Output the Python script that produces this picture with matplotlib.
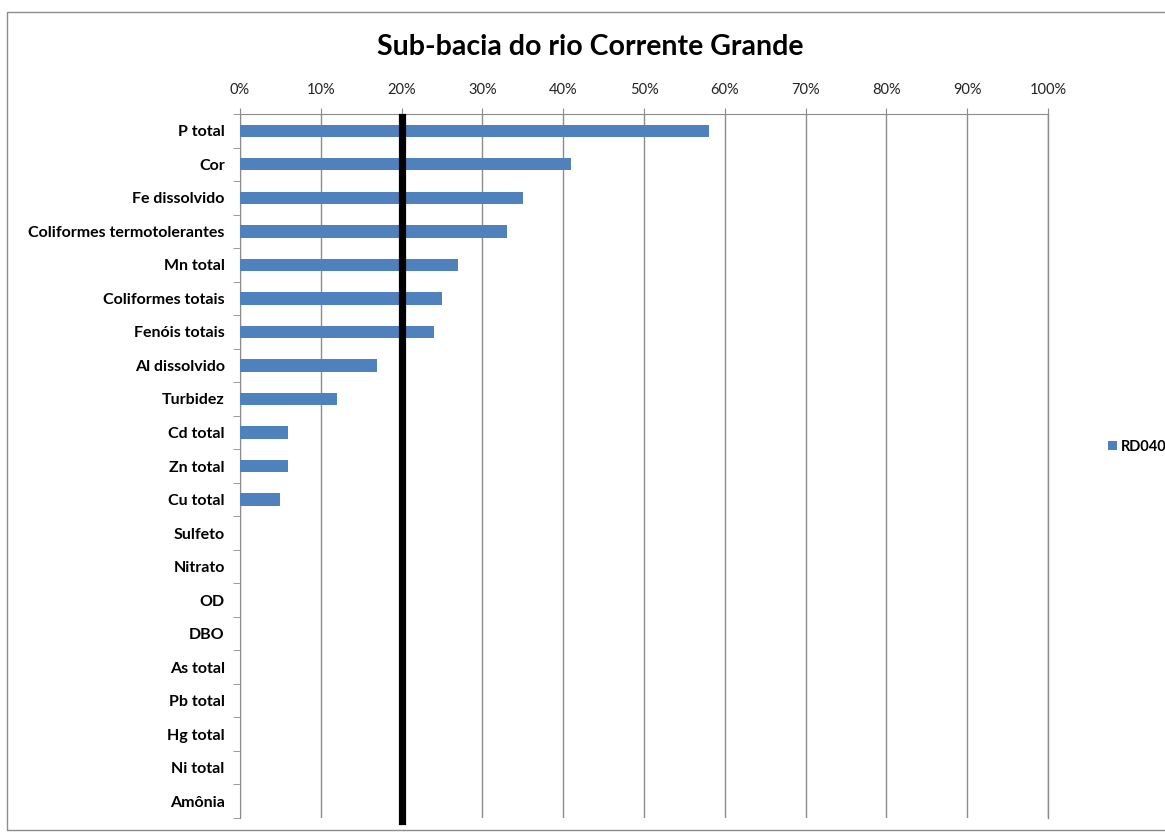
import matplotlib.pyplot as plt
import numpy as np
from matplotlib.ticker import FixedLocator, PercentFormatter

plt.rcParams['font.family'] = ['Lato', 'DejaVu Sans']

# parameters, top to bottom
parametros = ['P total', 'Cor', 'Fe dissolvido', 'Coliformes termotolerantes',
              'Mn total', 'Coliformes totais', 'Fenóis totais', 'Al dissolvido',
              'Turbidez', 'Cd total', 'Zn total', 'Cu total', 'Sulfeto', 'Nitrato',
              'OD', 'DBO', 'As total', 'Pb total', 'Hg total', 'Ni total', 'Amônia']
# percentage of violations, station RD040
rd040 = [58, 41, 35, 33, 27, 25, 24, 17, 12, 6, 6, 5,
         0, 0, 0, 0, 0, 0, 0, 0, 0]
limite = 20
x_ticks = [0, 10, 20, 30, 40, 50, 60, 70, 80, 90, 100]

fig = plt.figure(figsize=(11.65, 8.32), dpi=100)
ax = fig.add_axes([240/1165, 1 - 818/832, 808/1165, 704/832])

n = len(parametros)
y = np.arange(n)
ax.barh(y, rd040, height=0.37, color='#4F81BD', label='RD040', zorder=3)

ax.set_xlim(0, 100)
ax.set_ylim(n - 0.5, -0.5)

# 20% reference line
ax.axvline(limite, ymin=-0.004, ymax=0.996, color='black', linewidth=5.2,
           zorder=4, clip_on=False)

# x axis on top, gray gridlines
ax.xaxis.tick_top()
ax.set_xticks(x_ticks)
ax.xaxis.set_major_formatter(PercentFormatter(decimals=0))
ax.grid(axis='x', color='#8c8c8c', linewidth=1.0, zorder=0)
ax.axvline(x_ticks[-1], color='#8c8c8c', linewidth=1.0, zorder=0, clip_on=False)
ax.tick_params(axis='x', which='major', length=4, color='#8c8c8c', pad=8,
               labelsize=10.5, labelcolor='#222222')

ax.set_yticks(y)
ax.set_yticklabels(parametros, fontweight='bold', fontsize=11.5)
ax.yaxis.set_minor_locator(FixedLocator(np.arange(n + 1) - 0.5))
ax.tick_params(axis='y', which='major', length=0, pad=11)
ax.tick_params(axis='y', which='minor', length=5, color='#8c8c8c')

for s in ['right', 'bottom']:
    ax.spines[s].set_visible(False)
ax.spines['top'].set_color('#8c8c8c')
ax.spines['left'].set_color('#8c8c8c')

fig.text(590/1165, 1 - 47/832, 'Sub-bacia do rio Corrente Grande',
         ha='center', va='center', fontsize=20.5, fontweight='bold')

fig.legend(loc='center left', bbox_to_anchor=(1095/1165, 1 - 447/832),
           frameon=False, handlelength=0.6, handleheight=0.6, handletextpad=0.3,
           prop={'weight': 'bold', 'size': 10.5})

# outer chart frame
frame = plt.Rectangle((7/1165, 2/832), 1.2, 1 - 14/832, transform=fig.transFigure,
                      fill=False, edgecolor='#8c8c8c', linewidth=1.0)
fig.patches.append(frame)

fig.savefig('out.png', dpi=100)
